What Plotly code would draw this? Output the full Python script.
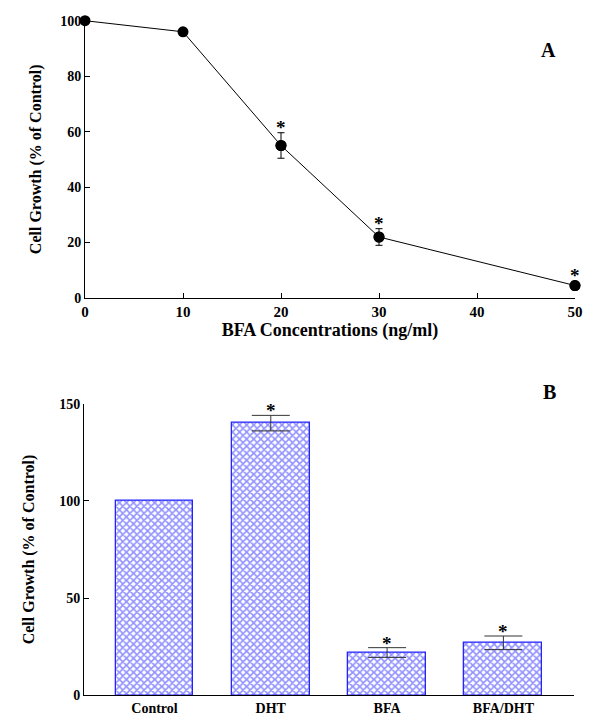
import plotly.graph_objects as go

# Panel A data
conc = [0, 10, 20, 30, 50]
growth_a = [100, 96, 55, 22, 4.5]
err_a = [0, 0, 4.6, 3, 1.5]
sig_a = [False, False, True, True, True]
xticks_a = [0, 10, 20, 30, 40, 50]
yticks_a = [0, 20, 40, 60, 80, 100]

# Panel B data
groups = ["Control", "DHT", "BFA", "BFA/DHT"]
growth_b = [100, 140, 22, 27]
err_b = [0, 4, 2.5, 3.5]
sig_b = [False, True, True, True]
yticks_b = [0, 50, 100, 150]

FONT = "Liberation Serif"
BLUE = "#2424ff"
fig = go.Figure()

fig.add_trace(go.Scatter(
    x=conc, y=growth_a, mode="lines+markers",
    line=dict(color="black", width=1),
    marker=dict(color="black", size=11),
    cliponaxis=False, xaxis="x", yaxis="y", showlegend=False,
))
ia = [i for i, e in enumerate(err_a) if e > 0]
fig.add_trace(go.Scatter(
    x=[conc[i] for i in ia], y=[growth_a[i] for i in ia], mode="markers",
    marker=dict(color="black", size=11),
    error_y=dict(type="data", array=[err_a[i] for i in ia], color="black", thickness=1, width=3.5),
    cliponaxis=False, xaxis="x", yaxis="y", showlegend=False,
))

bar_marker = dict(color="white", line=dict(color=BLUE, width=1.3),
                  pattern=dict(shape="x", fgcolor=BLUE, bgcolor="white", size=5, solidity=0.55))
ib0 = [i for i, e in enumerate(err_b) if e == 0]
ib1 = [i for i, e in enumerate(err_b) if e > 0]
fig.add_trace(go.Bar(
    x=[groups[i] for i in ib0], y=[growth_b[i] for i in ib0], width=0.67,
    marker=bar_marker, xaxis="x2", yaxis="y2", showlegend=False,
))
fig.add_trace(go.Bar(
    x=[groups[i] for i in ib1], y=[growth_b[i] for i in ib1], width=0.67,
    marker=bar_marker,
    error_y=dict(type="data", array=[err_b[i] for i in ib1], color="#333333", thickness=1, width=19),
    xaxis="x2", yaxis="y2", showlegend=False,
))

ann = []
for xv, yv, ev, s in zip(conc, growth_a, err_a, sig_a):
    if s:
        ann.append(dict(x=xv, y=yv + ev, xref="x", yref="y", text="<b>*</b>", showarrow=False,
                        yanchor="bottom", yshift=-7, font=dict(family=FONT, size=19, color="black")))
for xv, yv, ev, s in zip(groups, growth_b, err_b, sig_b):
    if s:
        ann.append(dict(x=xv, y=yv + ev, xref="x2", yref="y2", text="<b>*</b>", showarrow=False,
                        yanchor="bottom", yshift=-8, font=dict(family=FONT, size=19, color="black")))
ann.append(dict(x=558 / 600, y=1 - 37 / 726, xref="paper", yref="paper", text="<b>A</b>",
                showarrow=False, font=dict(family=FONT, size=20, color="black")))
ann.append(dict(x=558 / 600, y=1 - 392 / 726, xref="paper", yref="paper", text="<b>B</b>",
                showarrow=False, font=dict(family=FONT, size=20, color="black")))

axis_common = dict(showline=True, linecolor="black", linewidth=1, ticks="inside", ticklen=5,
                   tickcolor="black", showgrid=False, zeroline=False, automargin=False)

fig.update_layout(
    width=600, height=726, margin=dict(l=0, r=0, t=0, b=0),
    paper_bgcolor="white", plot_bgcolor="white",
    font=dict(family=FONT, color="black"),
    annotations=ann, barmode="overlay",
    xaxis=dict(axis_common, domain=[85 / 600, 575 / 600], range=[0, 50], tickvals=xticks_a,
               tickfont=dict(family=FONT, size=15, weight="bold", color="black"), anchor="y",
               title=dict(text="<b>BFA Concentrations (ng/ml)</b>", font=dict(family=FONT, size=18), standoff=4)),
    yaxis=dict(axis_common, domain=[1 - 298 / 726, 1 - 20.7 / 726], range=[0, 100], tickvals=yticks_a,
               tickfont=dict(family=FONT, size=14, weight="bold", color="black"), anchor="x",
               title=dict(text="<b>Cell Growth (% of Control)</b>", font=dict(family=FONT, size=16), standoff=14)),
    xaxis2=dict(axis_common, domain=[84 / 600, 574 / 600], range=[-0.606, 3.607], ticks="",
                tickfont=dict(family=FONT, size=14, weight="bold", color="black"), anchor="y2",
                categoryorder="array", categoryarray=groups),
    yaxis2=dict(axis_common, domain=[1 - 695.3 / 726, 1 - 403.7 / 726], range=[0, 150], tickvals=yticks_b,
                tickfont=dict(family=FONT, size=14, weight="bold", color="black"), anchor="x2",
                title=dict(text="<b>Cell Growth (% of Control)</b>", font=dict(family=FONT, size=16), standoff=20)),
    bargap=0,
)

fig.write_html("out.html", config={"displayModeBar": False},
               post_script="document.body.style.margin='0';document.body.style.overflow='hidden';")
